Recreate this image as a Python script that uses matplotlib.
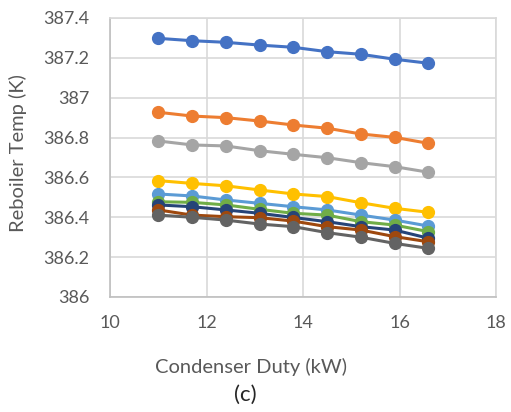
import matplotlib
matplotlib.use('Agg')
import matplotlib.pyplot as plt
from matplotlib.ticker import FuncFormatter

plt.rcParams['font.family'] = ['Lato', 'DejaVu Sans']

# condenser duty (kW), same for every series
duty = [11.0, 11.7, 12.4, 13.1, 13.8, 14.5, 15.2, 15.9, 16.6]

# reboiler temperature (K), one list per series
t_blue = [387.298, 387.286, 387.278, 387.264, 387.253, 387.231, 387.218, 387.193, 387.173]
t_orange = [386.927, 386.908, 386.900, 386.883, 386.863, 386.847, 386.818, 386.801, 386.771]
t_gray = [386.783, 386.763, 386.758, 386.734, 386.716, 386.699, 386.674, 386.654, 386.626]
t_gold = [386.584, 386.570, 386.558, 386.537, 386.517, 386.504, 386.473, 386.445, 386.425]
t_lblue = [386.517, 386.507, 386.487, 386.470, 386.453, 386.437, 386.411, 386.386, 386.356]
t_green = [386.478, 386.475, 386.462, 386.440, 386.420, 386.411, 386.378, 386.361, 386.328]
t_navy = [386.462, 386.453, 386.437, 386.420, 386.399, 386.378, 386.353, 386.336, 386.295]
t_brown = [386.437, 386.411, 386.403, 386.398, 386.381, 386.353, 386.336, 386.303, 386.277]
t_dgray = [386.411, 386.400, 386.386, 386.366, 386.353, 386.323, 386.300, 386.269, 386.244]

series = [t_blue, t_orange, t_gray, t_gold, t_lblue, t_green, t_navy, t_brown, t_dgray]
colors = ['#4472c4', '#ed7d31', '#a5a5a5', '#ffc000', '#5b9bd5',
          '#70ad47', '#264478', '#9e480e', '#636363']

x_ticks = [10, 12, 14, 16, 18]
y_ticks = [386, 386.2, 386.4, 386.6, 386.8, 387, 387.2, 387.4]

txt = '#595959'

fig = plt.figure(figsize=(5.11, 4.12), dpi=100)
ax = fig.add_axes([110 / 511, 1 - 297 / 412, 386 / 511, 279 / 412])

for vals, c in zip(series, colors):
    ax.plot(duty, vals, color=c, lw=2.2, marker='o', ms=8.5, zorder=3)

ax.set_xlim(10, 18)
ax.set_ylim(386, 387.4)
ax.set_xticks(x_ticks)
ax.set_yticks(y_ticks)
ax.yaxis.set_major_formatter(FuncFormatter(lambda v, p: '%g' % round(v, 1)))
ax.grid(True, color='#d9d9d9', lw=1.2)
ax.set_axisbelow(True)
for s in ax.spines.values():
    s.set_color('#d9d9d9')
    s.set_linewidth(1.2)
ax.spines['left'].set_color('#bfbfbf')
ax.spines['bottom'].set_color('#bfbfbf')
ax.tick_params(length=0, labelsize=13, labelcolor=txt)
ax.tick_params(axis='y', pad=15)
ax.tick_params(axis='x', pad=13)

fig.text(18 / 511, 1 - 153 / 412, 'Reboiler Temp (K)', rotation=90,
         ha='center', va='center', fontsize=14.5, color=txt)
fig.text(251 / 511, 1 - 367 / 412, 'Condenser Duty (kW)',
         ha='center', va='center', fontsize=14.5, color=txt)
fig.text(245 / 511, 1 - 395 / 412, '(c)', ha='center', va='center',
         fontsize=16, color='#262626')

fig.savefig('out.png', dpi=100)
